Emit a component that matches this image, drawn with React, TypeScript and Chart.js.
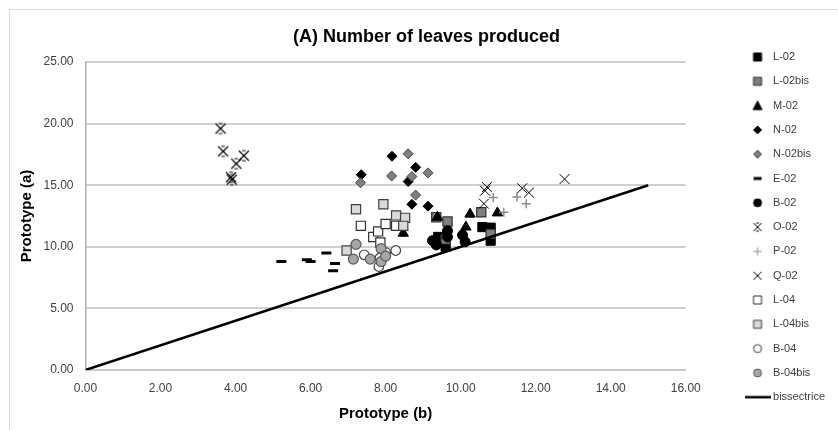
import React, { useEffect, useRef } from 'react';
import { Chart, registerables } from 'chart.js';

Chart.register(...registerables);

// ---------- data ----------
const chartTitle = '(A) Number of leaves produced';
const xAxisTitle = 'Prototype (b)';
const yAxisTitle = 'Prototype (a)';
const xTickValues = [0, 2, 4, 6, 8, 10, 12, 14, 16];
const yTickValues = [0, 5, 10, 15, 20, 25];

const l02X = [9.4, 9.6, 9.55, 10.58, 10.8, 10.8];
const l02Y = [10.8, 10.0, 10.4, 11.6, 11.55, 10.5];
const l02bisX = [9.35, 9.65, 10.55, 10.8, 9.6];
const l02bisY = [12.4, 12.05, 12.8, 11.05, 10.6];
const m02X = [8.47, 9.38, 10.14, 10.25, 10.98];
const m02Y = [11.1, 12.4, 11.6, 12.65, 12.75];
const n02X = [7.35, 8.17, 8.8, 8.6, 8.7, 9.13];
const n02Y = [15.85, 17.35, 16.45, 15.3, 13.45, 13.3];
const n02bisX = [7.33, 8.16, 8.6, 8.7, 8.8, 9.13];
const n02bisY = [15.2, 15.75, 17.55, 15.7, 14.2, 16.0];
const e02X = [5.22, 5.9, 6.0, 6.42, 6.65, 6.6];
const e02Y = [8.8, 8.95, 8.8, 9.5, 8.65, 8.05];
const b02X = [9.25, 9.35, 9.65, 9.65, 10.05, 10.12];
const b02Y = [10.5, 10.15, 11.3, 10.8, 10.95, 10.4];
const o02X = [3.6, 3.67, 3.88, 3.9, 4.02, 4.22];
const o02Y = [19.6, 17.75, 15.65, 15.45, 16.75, 17.4];
const p02X = [10.87, 11.5, 11.75, 11.15];
const p02Y = [14.0, 14.05, 13.5, 12.8];
const q02X = [10.7, 10.65, 10.62, 11.64, 11.82, 12.77];
const q02Y = [14.85, 14.55, 13.5, 14.75, 14.4, 15.5];
const l04X = [7.34, 7.67, 7.8, 7.86, 8.0, 8.28];
const l04Y = [11.7, 10.8, 11.25, 10.35, 11.85, 11.7];
const l04bisX = [6.96, 7.21, 7.94, 8.28, 8.52, 8.47];
const l04bisY = [9.7, 13.05, 13.45, 12.55, 12.35, 11.7];
const b04X = [7.43, 7.82, 8.0, 8.27, 7.85];
const b04Y = [9.35, 8.4, 9.55, 9.7, 9.1];
const b04bisX = [7.21, 7.14, 7.59, 7.88, 7.88, 8.0];
const b04bisY = [10.2, 9.0, 9.0, 9.85, 8.8, 9.25];
const bisX = [0, 15];
const bisY = [0, 15];

const seriesLabels = ['L-02', 'L-02bis', 'M-02', 'N-02', 'N-02bis', 'E-02', 'B-02', 'O-02', 'P-02', 'Q-02', 'L-04', 'L-04bis', 'B-04', 'B-04bis'];
const seriesX = [l02X, l02bisX, m02X, n02X, n02bisX, e02X, b02X, o02X, p02X, q02X, l04X, l04bisX, b04X, b04bisX];
const seriesY = [l02Y, l02bisY, m02Y, n02Y, n02bisY, e02Y, b02Y, o02Y, p02Y, q02Y, l04Y, l04bisY, b04Y, b04bisY];
const lineLabel = 'bissectrice';

// ---------- styles ----------
type Sty = { kind: string; r: number; fill: string; stroke: string; bw: number };
const seriesStyles: Sty[] = [
  { kind: 'rect', r: 6.5, fill: '#000', stroke: '#000', bw: 1 },
  { kind: 'rect', r: 6.5, fill: '#7f7f7f', stroke: '#303030', bw: 1.2 },
  { kind: 'triangle', r: 6, fill: '#000', stroke: '#000', bw: 1 },
  { kind: 'rectRot', r: 5, fill: '#000', stroke: '#000', bw: 1 },
  { kind: 'rectRot', r: 5, fill: '#808080', stroke: '#404040', bw: 1 },
  { kind: 'line', r: 5, fill: '#000', stroke: '#000', bw: 3 },
  { kind: 'circle', r: 5, fill: '#000', stroke: '#000', bw: 1 },
  { kind: 'xbar', r: 5, fill: '#000', stroke: '#000', bw: 1.2 },
  { kind: 'cross', r: 4.5, fill: '#8c8c8c', stroke: '#8c8c8c', bw: 1.5 },
  { kind: 'crossRot', r: 7, fill: '#000', stroke: '#000', bw: 1 },
  { kind: 'rect', r: 6.5, fill: '#ffffff', stroke: '#303030', bw: 1.2 },
  { kind: 'rect', r: 6.5, fill: '#d9d9d9', stroke: '#404040', bw: 1.2 },
  { kind: 'circle', r: 4.8, fill: '#ffffff', stroke: '#404040', bw: 1.2 },
  { kind: 'circle', r: 5, fill: '#a6a6a6', stroke: '#595959', bw: 1.2 },
];

const FONT = "'Liberation Sans', Arial, sans-serif";

function makeMarker(kind: string, fill: string, stroke: string, size: number, lw: number) {
  const c = document.createElement('canvas');
  const w = kind === 'bis' ? 26 : 14;
  const h = kind === 'bis' ? 4 : 14;
  c.width = w;
  c.height = h;
  const ctx = c.getContext('2d') as CanvasRenderingContext2D;
  const cx = w / 2;
  const cy = h / 2;
  const r = size / 2;
  ctx.fillStyle = fill;
  ctx.strokeStyle = stroke;
  ctx.lineWidth = lw;
  ctx.beginPath();
  switch (kind) {
    case 'rect':
      ctx.rect(cx - r, cy - r, size, size);
      ctx.fill();
      ctx.stroke();
      break;
    case 'triangle':
      ctx.moveTo(cx, cy - r - 0.5);
      ctx.lineTo(cx + r + 0.5, cy + r);
      ctx.lineTo(cx - r - 0.5, cy + r);
      ctx.closePath();
      ctx.fill();
      ctx.stroke();
      break;
    case 'rectRot':
      ctx.moveTo(cx, cy - r);
      ctx.lineTo(cx + r, cy);
      ctx.lineTo(cx, cy + r);
      ctx.lineTo(cx - r, cy);
      ctx.closePath();
      ctx.fill();
      ctx.stroke();
      break;
    case 'line':
      ctx.fillRect(cx - r, cy - 1.5, size, 3);
      break;
    case 'circle':
      ctx.arc(cx, cy, r, 0, Math.PI * 2);
      ctx.fill();
      ctx.stroke();
      break;
    case 'xbar':
      ctx.moveTo(cx - r, cy - r);
      ctx.lineTo(cx + r, cy + r);
      ctx.moveTo(cx + r, cy - r);
      ctx.lineTo(cx - r, cy + r);
      ctx.moveTo(cx - r * 0.35, cy - r);
      ctx.lineTo(cx + r * 0.35, cy - r);
      ctx.moveTo(cx - r * 0.35, cy + r);
      ctx.lineTo(cx + r * 0.35, cy + r);
      ctx.stroke();
      break;
    case 'cross':
      ctx.moveTo(cx - r, cy);
      ctx.lineTo(cx + r, cy);
      ctx.moveTo(cx, cy - r);
      ctx.lineTo(cx, cy + r);
      ctx.stroke();
      break;
    case 'crossRot':
      ctx.moveTo(cx - r, cy - r);
      ctx.lineTo(cx + r, cy + r);
      ctx.moveTo(cx + r, cy - r);
      ctx.lineTo(cx - r, cy + r);
      ctx.stroke();
      break;
    case 'bis':
      ctx.fillRect(0, cy - 1.25, w, 2.5);
      break;
  }
  return c;
}

export default function App() {
  const ref = useRef<HTMLCanvasElement>(null);

  useEffect(() => {
    const canvas = ref.current;
    if (!canvas) return;

    const legendMarkers = seriesStyles.map((s) => makeMarker(s.kind, s.fill, s.stroke, 8, 1));
    legendMarkers.push(makeMarker('bis', '#000', '#000', 26, 1));
    const o02DataMarker = makeMarker('xbar', '#000', '#000', 10, 1.2);

    const datasets: any[] = seriesLabels.map((label, i) => {
      const s = seriesStyles[i];
      return {
        label,
        data: seriesX[i].map((x, j) => ({ x, y: seriesY[i][j] })),
        pointStyle: s.kind === 'xbar' ? o02DataMarker : s.kind,
        pointRadius: s.r,
        pointBackgroundColor: s.fill,
        pointBorderColor: s.stroke,
        pointBorderWidth: s.bw,
        backgroundColor: s.fill,
        borderColor: s.stroke,
        showLine: false,
        order: 30 - i,
        yAxisID: 'y',
      };
    });
    datasets.push({
      label: lineLabel,
      data: bisX.map((x, j) => ({ x, y: bisY[j] })),
      showLine: true,
      borderColor: '#000',
      backgroundColor: '#000',
      borderWidth: 2.5,
      pointRadius: 0,
      order: 0,
      yAxisID: 'y',
    });

    const defaultLabels = (Chart.defaults as any).plugins.legend.labels.generateLabels;

    const chart = new Chart(canvas, {
      type: 'scatter',
      data: { datasets },
      options: {
        animation: false,
        responsive: false,
        devicePixelRatio: 1,
        events: [],
        layout: { padding: { left: 18, right: 3, top: 10, bottom: 5 } },
        font: { family: FONT },
        plugins: {
          tooltip: { enabled: false },
          title: {
            display: true,
            text: chartTitle,
            color: '#000',
            font: { family: FONT, size: 18, weight: 'bold' },
            padding: { top: 16, bottom: 14.4 },
          },
          legend: {
            display: true,
            position: 'right',
            align: 'start',
            title: { display: true, text: ' ', font: { size: 10 }, padding: { top: 0, bottom: 16.2 } },
            labels: {
              usePointStyle: true,
              pointStyleWidth: 20,
              padding: 13.3,
              color: '#404040',
              font: { family: FONT, size: 11 },
              sort: (a: any, b: any) => a.datasetIndex - b.datasetIndex,
              generateLabels: (ch: any) => {
                const items = defaultLabels(ch);
                return items.map((it: any) => ({ ...it, pointStyle: legendMarkers[it.datasetIndex] }));
              },
            },
          },
        },
        scales: {
          x: {
            type: 'linear',
            min: 0,
            max: 16,
            afterBuildTicks: (s: any) => {
              s.ticks = xTickValues.map((v) => ({ value: v }));
            },
            afterFit: (s: any) => {
              s.height = 55;
            },
            grid: { display: false, drawTicks: false },
            border: { display: true, color: '#c8c8c8', width: 1.5 },
            ticks: {
              padding: 11,
              color: '#404040',
              font: { family: FONT, size: 12 },
              maxRotation: 0,
              callback: (v: any) => Number(v).toFixed(2),
            },
            title: {
              display: true,
              text: xAxisTitle,
              color: '#000',
              font: { family: FONT, size: 15, weight: 'bold' },
              padding: { top: 0, bottom: 2 },
            },
          },
          y: {
            type: 'linear',
            position: 'left',
            min: 0,
            max: 25,
            afterBuildTicks: (s: any) => {
              s.ticks = yTickValues.map((v) => ({ value: v }));
            },
            afterFit: (s: any) => {
              s.width = 67.5;
            },
            grid: { display: true, color: '#d0d0d0', lineWidth: 2, drawTicks: false },
            border: { display: true, color: '#b0b0b0', width: 1.5 },
            ticks: {
              padding: 12,
              color: '#404040',
              font: { family: FONT, size: 12 },
              callback: (v: any) => Number(v).toFixed(2),
            },
            title: {
              display: true,
              text: yAxisTitle,
              color: '#000',
              font: { family: FONT, size: 15, weight: 'bold' },
              padding: { top: 0, bottom: 0 },
            },
          },
          y2: {
            type: 'linear',
            position: 'right',
            display: true,
            grid: { display: false, drawTicks: false },
            border: { display: false },
            ticks: { display: false },
            afterFit: (s: any) => {
              s.width = 48.5;
            },
          },
        },
      } as any,
    });

    return () => chart.destroy();
  }, []);

  return (
    <div style={{ position: 'fixed', left: 0, top: 0, width: 838, height: 430, overflow: 'hidden', background: '#fff' }}>
      <div
        style={{
          position: 'absolute',
          left: 9,
          top: 9,
          width: 880,
          height: 480,
          border: '1px solid #d9d9d9',
          boxSizing: 'border-box',
        }}
      />
      <canvas ref={ref} width={838} height={430} style={{ position: 'absolute', left: 0, top: 0, width: 838, height: 430 }} />
    </div>
  );
}
